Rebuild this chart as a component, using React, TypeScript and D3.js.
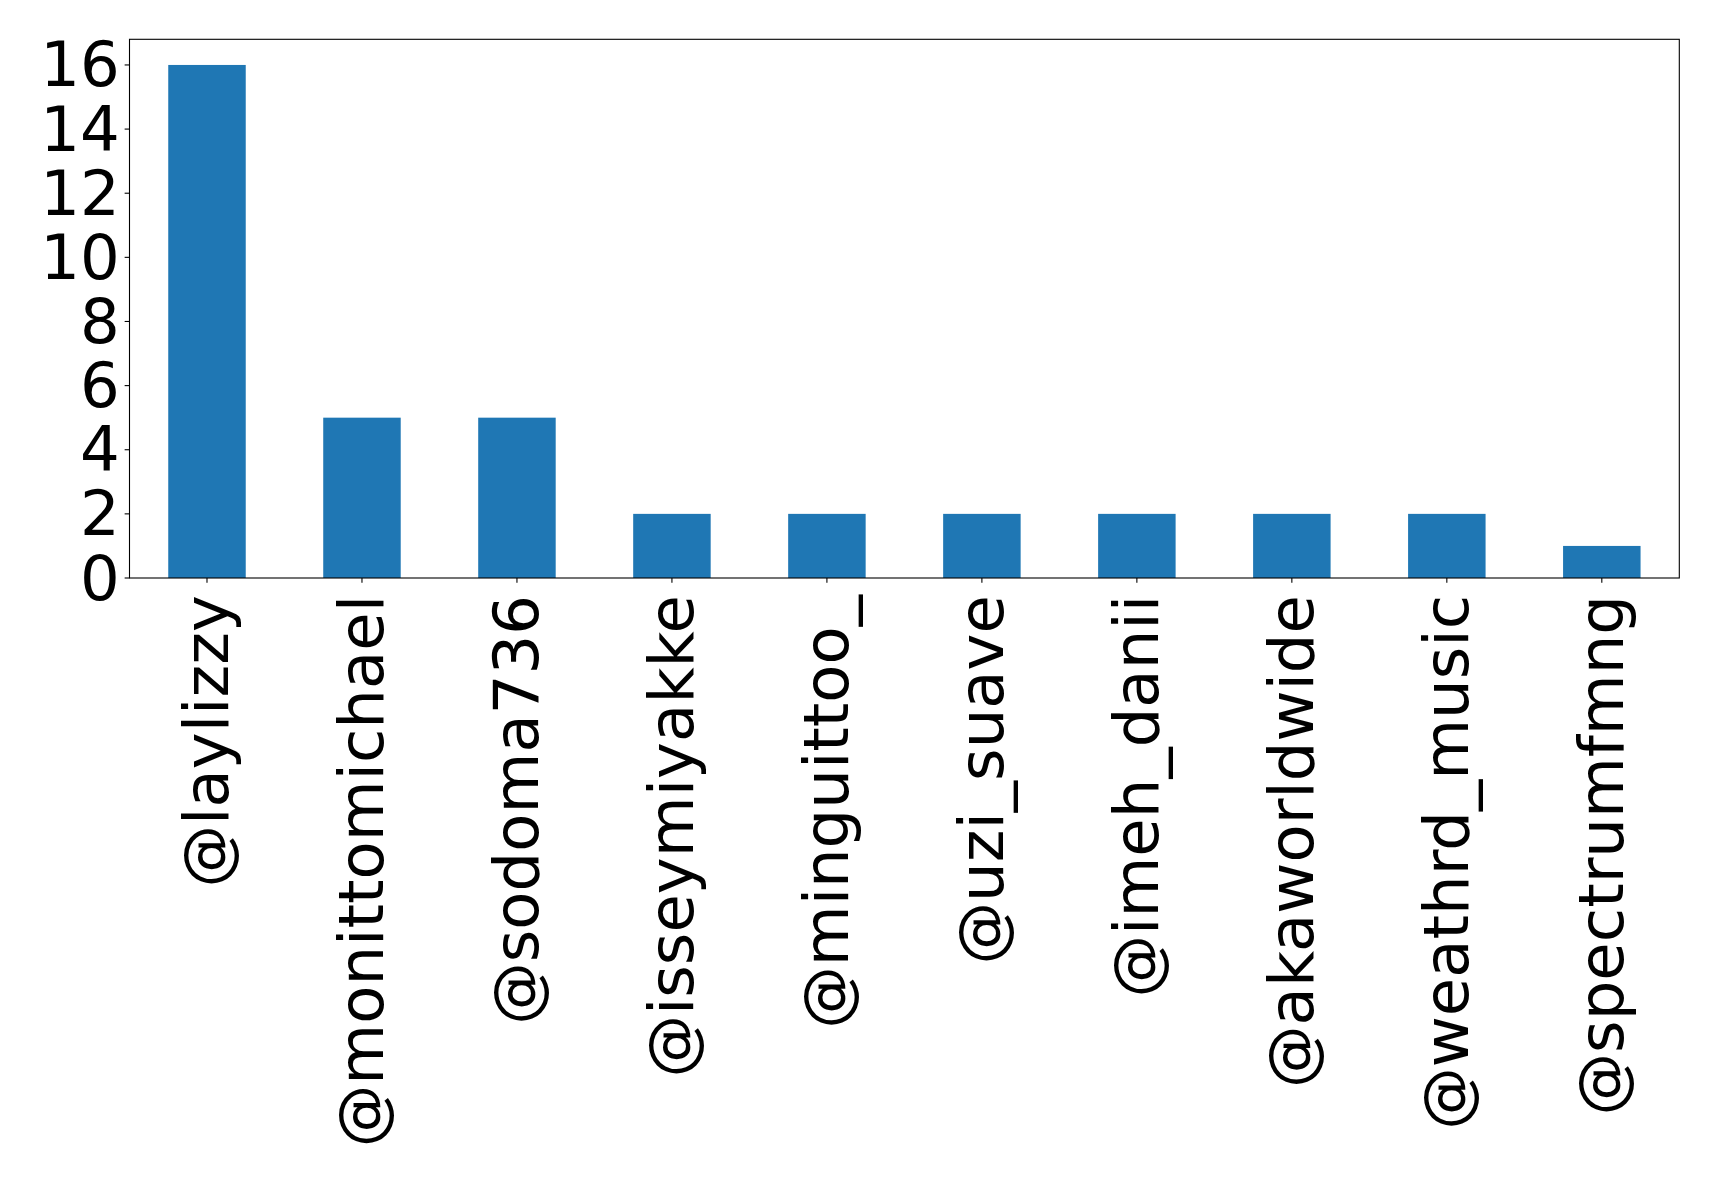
import React from "react";
import * as d3 from "d3";

const categories = [
  "@laylizzy",
  "@monittomichael",
  "@sodoma736",
  "@isseymiyakke",
  "@minguittoo_",
  "@uzi_suave",
  "@imeh_danii",
  "@akaworldwide",
  "@weathrd_music",
  "@spectrumfmng",
];
const values = [16, 5, 5, 2, 2, 2, 2, 2, 2, 1];
const yTicks = [0, 2, 4, 6, 8, 10, 12, 14, 16];

const W = 1719;
const H = 1180;
const left = 129.5;
const right = 1679.3;
const top = 39.3;
const bottom = 578;
const fontSize = 62.5;
const tickLen = 4.86;
const pad = 4.86;
const xLabelOffset = 17;
const font = "DejaVu Sans, sans-serif";

export default function App() {
  const x = d3
    .scaleLinear()
    .domain([-0.5, categories.length - 0.5])
    .range([left, right]);
  const yMax = d3.max(values)! * 1.05;
  const y = d3.scaleLinear().domain([0, yMax]).range([bottom, top]);
  const bw = x(0.25) - x(0);

  return (
    <svg
      width={W}
      height={H}
      style={{ position: "absolute", left: 0, top: 0, background: "#fff" }}
    >
      <rect x={0} y={0} width={W} height={H} fill="#fff" />
      {values.map((v, i) => (
        <rect
          key={i}
          x={x(i) - bw}
          y={y(v)}
          width={bw * 2}
          height={y(0) - y(v)}
          fill="#1f77b4"
        />
      ))}
      <rect
        x={left}
        y={top}
        width={right - left}
        height={bottom - top}
        fill="none"
        stroke="#000"
        strokeWidth={1.1}
      />
      {yTicks.map((t) => (
        <g key={t}>
          <line
            x1={left - tickLen}
            x2={left}
            y1={y(t)}
            y2={y(t)}
            stroke="#000"
            strokeWidth={1.1}
          />
          <text
            x={left - tickLen - pad}
            y={y(t)}
            textAnchor="end"
            dominantBaseline="central"
            fontFamily={font}
            fontSize={fontSize}
            fill="#000"
          >
            {t}
          </text>
        </g>
      ))}
      {categories.map((c, i) => (
        <g key={c}>
          <line
            x1={x(i)}
            x2={x(i)}
            y1={bottom}
            y2={bottom + tickLen}
            stroke="#000"
            strokeWidth={1.1}
          />
          <text
            transform={`translate(${x(i)},${bottom + xLabelOffset}) rotate(-90)`}
            textAnchor="end"
            dominantBaseline="central"
            fontFamily={font}
            fontSize={fontSize}
            fill="#000"
          >
            {c}
          </text>
        </g>
      ))}
    </svg>
  );
}
